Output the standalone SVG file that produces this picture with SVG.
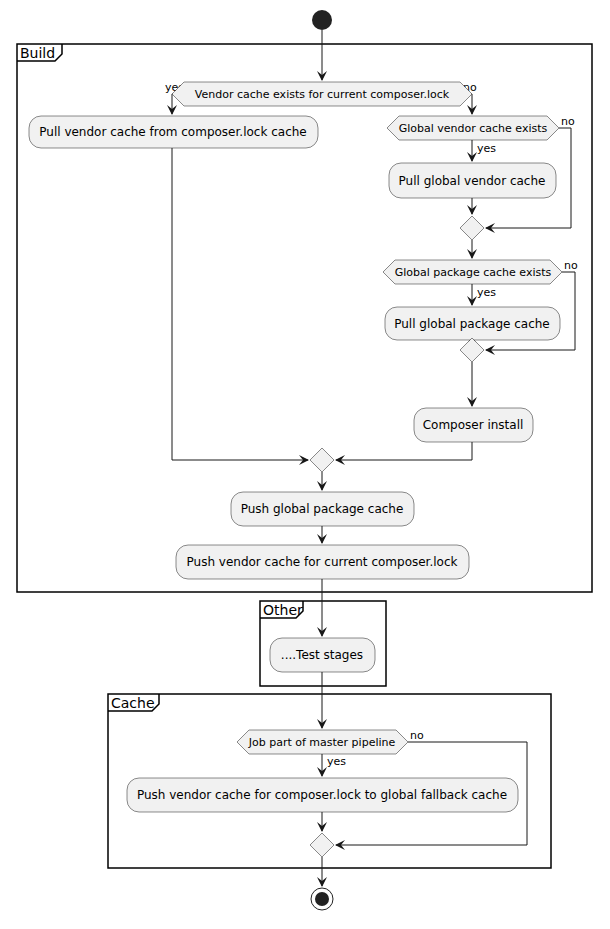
<svg xmlns="http://www.w3.org/2000/svg" width="610" height="929" viewBox="0 0 610 929">
<style>
.f{fill:none;stroke:#000;stroke-width:1.5}
.b{fill:#F1F1F1;stroke:#181818;stroke-width:0.5}
.l{fill:none;stroke:#181818;stroke-width:1}
text{font-family:"DejaVu Sans",sans-serif;fill:#000}
.t{font-size:12px;text-anchor:middle}
.d{font-size:11px;text-anchor:middle}
.s{font-size:11px}
.k{font-size:14px}
</style>
<defs><marker id="a" markerWidth="10" markerHeight="10" refX="9" refY="5" orient="auto" markerUnits="userSpaceOnUse"><path d="M0,0 L10,5 L0,10 L4,5 Z" fill="#181818"/></marker></defs>
<g id="frames">
<rect class="f" x="17" y="44" width="575" height="548"/><path class="f" d="M17,61 H55 L62,54 V44"/><text class="k" x="20" y="58">Build</text>
<rect class="f" x="260" y="601" width="126" height="85"/><path class="f" d="M260,618 H296 L303,611 V601"/><text class="k" x="263" y="615">Other</text>
<rect class="f" x="108" y="694" width="443" height="174"/><path class="f" d="M108,711 H152 L159,704 V694"/><text class="k" x="111" y="708">Cache</text>
</g>
<g id="connectors">
<path class="l" d="M322,30 V80" marker-end="url(#a)"/>
<path class="l" d="M184,94 H172 V114" marker-end="url(#a)"/>
<path class="l" d="M460,94 H472 V114" marker-end="url(#a)"/>
<path class="l" d="M472,140 V161" marker-end="url(#a)"/>
<path class="l" d="M472,198 V214" marker-end="url(#a)"/>
<path class="l" d="M559,128 H571 V228 H486" marker-end="url(#a)"/>
<path class="l" d="M472,240 V258" marker-end="url(#a)"/>
<path class="l" d="M562,272 H575 V350 H486" marker-end="url(#a)"/>
<path class="l" d="M472,284 V305" marker-end="url(#a)"/>
<path class="l" d="M472,340 V336" marker-end="url(#a)"/>
<path class="l" d="M472,362 V406" marker-end="url(#a)"/>
<path class="l" d="M472,442 V460 H336" marker-end="url(#a)"/>
<path class="l" d="M172,148 V460 H308" marker-end="url(#a)"/>
<path class="l" d="M322,472 V490" marker-end="url(#a)"/>
<path class="l" d="M322,526 V543" marker-end="url(#a)"/>
<path class="l" d="M322,579 V636" marker-end="url(#a)"/>
<path class="l" d="M322,672 V728" marker-end="url(#a)"/>
<path class="l" d="M408,742 H527 V845 H336" marker-end="url(#a)"/>
<path class="l" d="M322,754 V776" marker-end="url(#a)"/>
<path class="l" d="M322,812 V831" marker-end="url(#a)"/>
<path class="l" d="M322,857 V886" marker-end="url(#a)"/>
<text class="s" x="165" y="91">yes</text><text class="s" x="463" y="91">no</text>
<text class="s" x="477" y="152">yes</text><text class="s" x="561" y="125">no</text>
<text class="s" x="477" y="296">yes</text><text class="s" x="564" y="269">no</text>
<text class="s" x="327" y="765">yes</text><text class="s" x="410" y="739">no</text>
</g>
<g id="start"><circle cx="322" cy="20" r="10" fill="#222"/></g>
<g id="d1"><polygon class="b" points="172,94 184,82 460,82 472,94 460,106 184,106"/><text class="d" x="322" y="98">Vendor cache exists for current composer.lock</text></g>
<g id="n1"><rect class="b" x="29" y="116" width="289" height="32" rx="12"/><text class="t" x="173" y="136">Pull vendor cache from composer.lock cache</text></g>
<g id="d2"><polygon class="b" points="387,128 399,116 547,116 559,128 547,140 399,140"/><text class="d" x="473" y="132">Global vendor cache exists</text></g>
<g id="n2"><rect class="b" x="389" y="163" width="167" height="35" rx="12"/><text class="t" x="472" y="185">Pull global vendor cache</text></g>
<g id="m1"><polygon class="b" points="472,216 484,228 472,240 460,228"/></g>
<g id="d3"><polygon class="b" points="383,272 395,260 550,260 562,272 550,284 395,284"/><text class="d" x="473" y="276">Global package cache exists</text></g>
<g id="n3"><rect class="b" x="385" y="307" width="175" height="33" rx="12"/><text class="t" x="472" y="328">Pull global package cache</text></g>
<g id="m2"><polygon class="b" points="472,338 484,350 472,362 460,350"/></g>
<g id="n4"><rect class="b" x="414" y="408" width="119" height="34" rx="12"/><text class="t" x="473" y="429">Composer install</text></g>
<g id="m3"><polygon class="b" points="322,448 334,460 322,472 310,460"/></g>
<g id="n5"><rect class="b" x="231" y="492" width="183" height="34" rx="12"/><text class="t" x="322" y="513">Push global package cache</text></g>
<g id="n6"><rect class="b" x="176" y="545" width="293" height="34" rx="12"/><text class="t" x="322" y="566">Push vendor cache for current composer.lock</text></g>
<g id="n7"><rect class="b" x="270" y="638" width="105" height="34" rx="12"/><text class="t" x="322" y="659">....Test stages</text></g>
<g id="d4"><polygon class="b" points="237,742 249,730 396,730 408,742 396,754 249,754"/><text class="d" x="322" y="746">Job part of master pipeline</text></g>
<g id="n8"><rect class="b" x="127" y="778" width="391" height="34" rx="12"/><text class="t" x="322" y="799">Push vendor cache for composer.lock to global fallback cache</text></g>
<g id="m4"><polygon class="b" points="322,833 334,845 322,857 310,845"/></g>
<g id="end"><circle cx="322" cy="899" r="11" fill="none" stroke="#222" stroke-width="1"/><circle cx="322" cy="899" r="7" fill="#222"/></g>
</svg>
